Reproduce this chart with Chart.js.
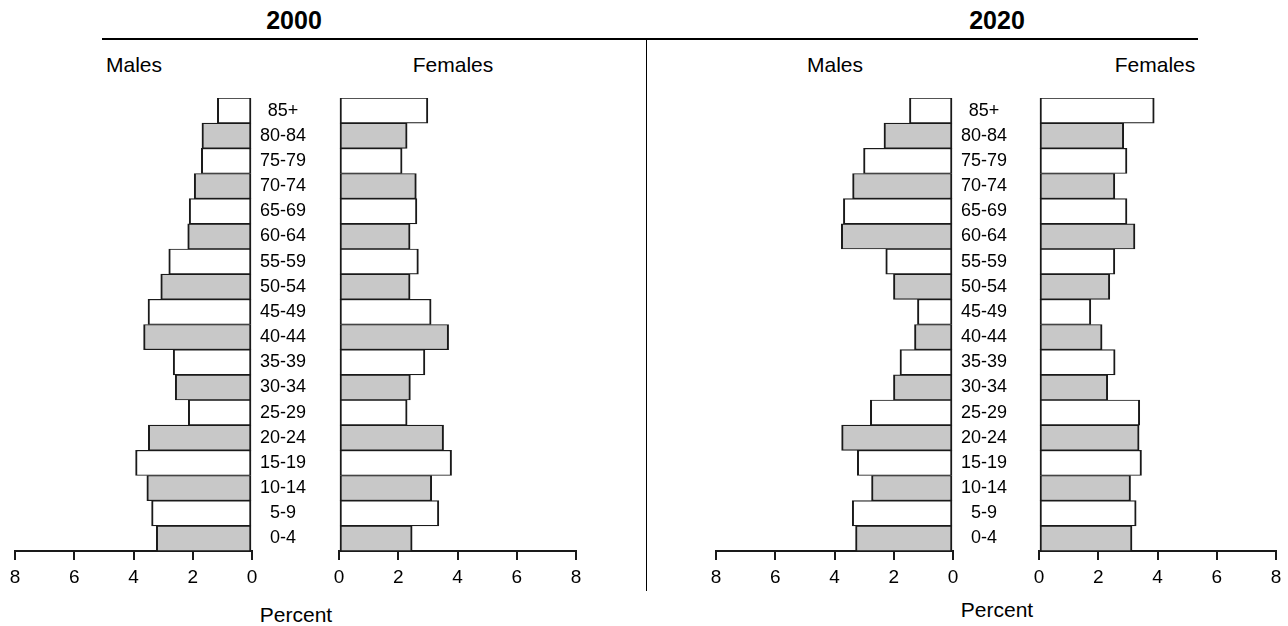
<!DOCTYPE html>
<html>
<head>
<meta charset="utf-8">
<script src="https://cdn.jsdelivr.net/npm/chart.js@4"></script>
<style>
  html, body { margin:0; padding:0; background:#fff; }
  body { width:1288px; height:626px; position:relative; overflow:hidden; font-family:"Liberation Sans", Arial, sans-serif; color:#000; }
  canvas { position:absolute; }
  .t { position:absolute; transform:translate(-50%,-50%); white-space:nowrap; }
  .hl { position:absolute; background:#000; }
</style>
</head>
<body>
<div class="t" style="left:294px;top:20px;font-size:25px;font-weight:bold;">2000</div>
<div class="t" style="left:997px;top:20px;font-size:25px;font-weight:bold;">2020</div>
<div class="hl" style="left:102px;top:38px;width:1096px;height:2px;"></div>
<div class="hl" style="left:646px;top:38px;width:1px;height:553px;"></div>
<div class="t" style="left:134px;top:65px;font-size:21px;">Males</div>
<div class="t" style="left:453px;top:65px;font-size:21px;">Females</div>
<div class="t" style="left:835px;top:65px;font-size:21px;">Males</div>
<div class="t" style="left:1155px;top:65px;font-size:21px;">Females</div>
<div class="t" style="left:296px;top:615px;font-size:21px;">Percent</div>
<div class="t" style="left:997px;top:610px;font-size:21px;">Percent</div>

<canvas id="m2000" width="334" height="498" style="left:5px;top:93px;"></canvas>
<canvas id="f2000" width="257" height="498" style="left:329px;top:93px;"></canvas>
<canvas id="m2020" width="334" height="498" style="left:706px;top:93px;"></canvas>
<canvas id="f2020" width="257" height="498" style="left:1029px;top:93px;"></canvas>

<script>
// Age groups, bottom to top
const ages = ['0-4','5-9','10-14','15-19','20-24','25-29','30-34','35-39','40-44','45-49','50-54','55-59','60-64','65-69','70-74','75-79','80-84','85+'];
// Percent values, same order as ages
const males2000   = [3.23,3.39,3.55,3.93,3.50,2.15,2.59,2.66,3.66,3.51,3.08,2.81,2.17,2.12,1.95,1.71,1.69,1.17];
const females2000 = [2.47,3.37,3.13,3.80,3.53,2.30,2.41,2.90,3.70,3.11,2.40,2.68,2.40,2.63,2.61,2.13,2.30,3.00];
const males2020   = [3.29,3.40,2.75,3.23,3.76,2.79,2.01,1.79,1.30,1.20,2.01,2.27,3.77,3.70,3.39,3.02,2.33,1.47];
const females2020 = [3.14,3.28,3.09,3.46,3.38,3.40,2.32,2.57,2.13,1.75,2.39,2.56,3.24,2.97,2.56,2.97,2.86,3.89];
const xTicks = [0,2,4,6,8];

const FONT = '"Liberation Sans", Arial, sans-serif';
const fills = ages.map((_, i) => i % 2 === 0 ? '#c8c8c8' : '#ffffff');

function makeChart(id, values, isMale) {
  new Chart(document.getElementById(id), {
    type: 'bar',
    data: {
      labels: ages,
      datasets: [{
        data: values,
        backgroundColor: fills,
        borderColor: '#1a1a1a',
        borderWidth: { top: 1.2, bottom: 1.2, left: 2, right: 2 },
        borderSkipped: false,
        categoryPercentage: 1,
        barPercentage: 1
      }]
    },
    options: {
      indexAxis: 'y',
      responsive: false,
      animation: false,
      devicePixelRatio: 1,
      layout: { autoPadding: false, padding: { left: 10, right: isMale ? 0 : 10, top: 5, bottom: 0 } },
      plugins: { legend: { display: false }, tooltip: { enabled: false } },
      scales: {
        x: {
          type: 'linear',
          min: xTicks[0], max: xTicks[xTicks.length - 1],
          reverse: isMale,
          afterBuildTicks: s => { s.ticks = xTicks.map(v => ({ value: v })); },
          ticks: { color: '#000', font: { size: 19, family: FONT }, padding: 6 },
          grid: { drawOnChartArea: false, drawTicks: true, tickLength: 9, color: '#1a1a1a', lineWidth: 2 },
          border: { display: true, color: '#1a1a1a', width: 2 },
          afterFit: s => { s.height = 40; s.paddingLeft = 0; s.paddingRight = 0; }
        },
        y: {
          reverse: true,
          position: 'right',
          display: isMale,
          grid: { display: false },
          border: { display: false },
          ticks: { crossAlign: 'center', padding: 0, color: '#000', font: { size: 18, family: FONT } },
          afterFit: s => { s.width = isMale ? 87 : 0; s.paddingTop = 0; s.paddingBottom = 0; }
        }
      }
    }
  });
}

makeChart('m2000', males2000, true);
makeChart('f2000', females2000, false);
makeChart('m2020', males2020, true);
makeChart('f2020', females2020, false);
</script>
</body>
</html>
